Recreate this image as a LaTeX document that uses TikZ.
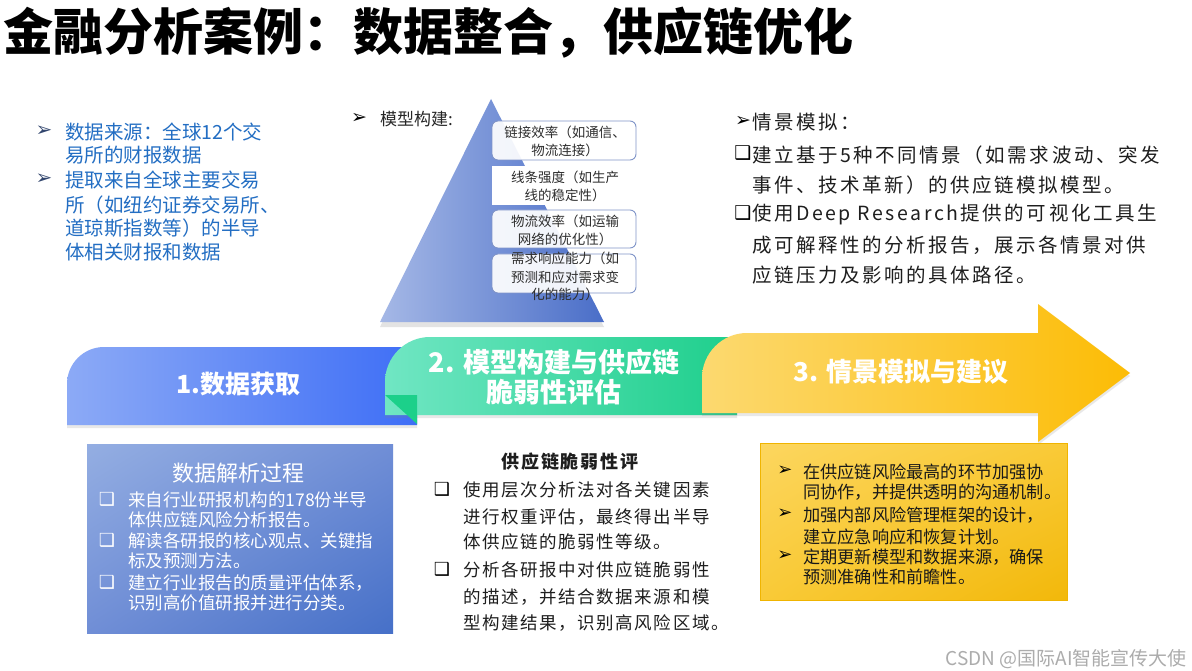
\documentclass[tikz,border=0pt]{standalone}
\usepackage{fontspec}
\setmainfont{Noto Sans CJK SC}
\newfontfamily\dvsans{DejaVu Sans}
\usetikzlibrary{shadows,shadings}
\newcommand{\myfs}[2]{\fontsize{#1}{#2}\selectfont}
\definecolor{txtblue}{RGB}{35,110,195}
\definecolor{bulblue}{RGB}{50,70,110}
\definecolor{darktxt}{RGB}{30,30,30}
\definecolor{bandBlueL}{RGB}{140,170,246}
\definecolor{bandBlueR}{RGB}{62,110,246}
\definecolor{bandGreenL}{RGB}{112,230,195}
\definecolor{bandGreenR}{RGB}{30,207,140}
\definecolor{foldGreen}{RGB}{28,208,138}
\definecolor{bandYelL}{RGB}{252,217,112}
\definecolor{bandYelR}{RGB}{252,188,5}
\definecolor{pyrL}{RGB}{165,184,230}
\definecolor{pyrR}{RGB}{74,110,200}
\definecolor{boxEdge}{RGB}{128,148,200}
\definecolor{bboxTL}{RGB}{148,174,226}
\definecolor{bboxM}{RGB}{112,142,214}
\definecolor{bboxBR}{RGB}{70,112,200}
\definecolor{yboxTL}{RGB}{252,214,95}
\definecolor{yboxM}{RGB}{249,202,55}
\definecolor{yboxBR}{RGB}{242,184,10}
\definecolor{yedge}{RGB}{240,180,0}
\definecolor{wmgray}{RGB}{172,172,172}
\begin{document}
\begin{tikzpicture}[x=1pt,y=-1pt,
  ln/.style={anchor=west, inner sep=0pt},
  ctr/.style={inner sep=0pt},
  bandshadow/.style={drop shadow={opacity=0.18, shadow xshift=0pt, shadow yshift=-3pt}},
  bandtxt/.style={ctr, text=white, font=\myfs{26}{30}\bfseries, align=center},
  lt/.style={ln, text=txtblue, font=\myfs{19.5}{24}},
  ltbul/.style={ctr, text=bulblue, font=\dvsans\myfs{20}{20}},
  rt/.style={ln, text=darktxt, font=\myfs{19.5}{24}\addfontfeature{LetterSpace=13}},
  rtbul/.style={ctr, text=black, font=\dvsans\myfs{19}{19}},
  pbox/.style={draw=boxEdge, fill=white, fill opacity=0.92, rounded corners=6pt, line width=0.9pt},
  ptxt/.style={ctr, text=black!82, font=\myfs{13.5}{16}},
  mt/.style={ln, text=darktxt, font=\myfs{17.5}{20}\addfontfeature{LetterSpace=9}},
  bt/.style={ln, text=white, font=\myfs{17.5}{20}},
  yt/.style={ln, text=black!90, font=\myfs{17.2}{20}},
  sqbul/.style={ctr, font=\dvsans\myfs{18}{18}},
  ybul/.style={ctr, text=black, font=\dvsans\myfs{18}{18}}
]
\useasboundingbox[fill=white] (0,0) rectangle (1192,671);

% title
\node[ln, font=\myfs{50}{50}\bfseries, text=black] (title) at (3,33) {金融分析案例：数据整合，供应链优化};

% left top text
\node[ltbul] (lb1) at (44,131) {➢};
\node[ltbul] (lb2) at (44,179) {➢};
\node[lt] (lt1) at (65,132) {数据来源：全球12个交};
\node[lt] (lt2) at (65,155) {易所的财报数据};
\node[lt] (lt3) at (65,180) {提取来自全球主要交易};
\node[lt] (lt4) at (65,205) {所（如纽约证券交易所、};
\node[lt] (lt5) at (65,228) {道琼斯指数等）的半导};
\node[lt] (lt6) at (65,252) {体相关财报和数据};

% pyramid
\path[drop shadow={opacity=0.22, shadow xshift=0pt, shadow yshift=-5pt}, left color=pyrL, right color=pyrR]
  (491,99) -- (604,322) -- (380,322) -- cycle;
\node[ctr, text=black, font=\dvsans\myfs{19}{19}] (pb) at (359,118) {➢};
\node[ln, text=black!85, font=\myfs{17}{20}] (pt) at (380,119) {模型构建:};
\draw[pbox] (492,121) rectangle (636,160);
\fill[white] (492,166) rectangle (636,205);
\draw[pbox] (492,210) rectangle (636,248);
\draw[pbox] (492,254) rectangle (636,293);
\node[ptxt] (p11) at (565,132) {链接效率（如通信、};
\node[ptxt] (p12) at (565,150) {物流连接）};
\node[ptxt] (p21) at (565,177) {线条强度（如生产};
\node[ptxt] (p22) at (565,195) {线的稳定性）};
\node[ptxt] (p31) at (565,221) {物流效率（如运输};
\node[ptxt] (p32) at (565,239) {网络的优化性）};
\node[ptxt] (p41) at (565,258) {需求响应能力（如};
\node[ptxt] (p42) at (565,277) {预测和应对需求变};
\node[ptxt] (p43) at (565,294) {化的能力）};

% right top text
\node[rtbul] (rb0) at (743,121) {➢};
\node[rt] (rt0) at (752,122) {情景模拟：};
\node[rtbul] (rb1) at (743,153) {❑};
\node[rt] (rt1) at (752,155) {建立基于5种不同情景（如需求波动、突发};
\node[rt] (rt2) at (752,185) {事件、技术革新）的供应链模拟模型。};
\node[rtbul] (rb2) at (743,213) {❑};
\node[rt] (rt3) at (752,215) {使用Deep Research提供的可视化工具生};
\node[rt] (rt4) at (752,245) {成可解释性的分析报告，展示各情景对供};
\node[rt] (rt5) at (752,275) {应链压力及影响的具体路径。};

% bands
\path[bandshadow, left color=bandBlueL, right color=bandBlueR]
  (67,425) -- (67,384) .. controls (67,363.6) and (83.6,347) .. (104,347) -- (417,347) -- (417,425) -- cycle;
\path[bandshadow, left color=bandGreenL, right color=bandGreenR]
  (385,415) -- (385,382) .. controls (385,357.2) and (405.2,337) .. (430,337) -- (737,337) -- (737,415) -- cycle;
\fill[foldGreen] (385,395) -- (417,395) -- (417,424) -- cycle;
\path[bandshadow, left color=bandYelL, right color=bandYelR]
  (702,413) -- (702,378) .. controls (702,353.2) and (722.2,333) .. (747,333) -- (1038,333) -- (1038,304) -- (1130,373) -- (1038,442) -- (1038,413) -- cycle;
\node[bandtxt, font=\myfs{25}{30}\bfseries] (s1) at (238,384) {1.数据获取};
\node[bandtxt, font=\myfs{27}{30}\bfseries] (s2) at (554,377) {2. 模型构建与供应链\\脆弱性评估};
\node[bandtxt] (s3) at (901,372) {3. 情景模拟与建议};

% blue box
\path[shading=bilinear interpolation, upper left=bboxTL, upper right=bboxM, lower left=bboxM, lower right=bboxBR]
  (87,444) rectangle (393,633);
\node[ctr, text=white, font=\myfs{22}{24}] (bt0) at (238,473) {数据解析过程};
\node[sqbul, text=white] (bb1) at (107,499) {❑};
\node[bt] (bt1) at (128,500) {来自行业研报机构的178份半导};
\node[bt] (bt2) at (128,520) {体供应链风险分析报告。};
\node[sqbul, text=white] (bb2) at (107,540) {❑};
\node[bt] (bt3) at (128,541) {解读各研报的核心观点、关键指};
\node[bt] (bt4) at (128,561) {标及预测方法。};
\node[sqbul, text=white] (bb3) at (107,582) {❑};
\node[bt] (bt5) at (128,583) {建立行业报告的质量评估体系，};
\node[bt] (bt6) at (128,603) {识别高价值研报并进行分类。};

% middle text
\node[ctr, text=darktxt, font=\myfs{18}{20}\bfseries\addfontfeature{LetterSpace=10}] (mt0) at (570,462) {供应链脆弱性评};
\node[sqbul, text=black] (mb1) at (442,489) {❑};
\node[mt] (mt1) at (463,490) {使用层次分析法对各关键因素};
\node[mt] (mt2) at (463,517) {进行权重评估，最终得出半导};
\node[mt] (mt3) at (463,542) {体供应链的脆弱性等级。};
\node[sqbul, text=black] (mb2) at (442,569) {❑};
\node[mt] (mt4) at (463,570) {分析各研报中对供应链脆弱性};
\node[mt] (mt5) at (463,597) {的描述，并结合数据来源和模};
\node[mt] (mt6) at (463,623) {型构建结果，识别高风险区域。};

% yellow box
\path[shading=bilinear interpolation, upper left=yboxTL, upper right=yboxM, lower left=yboxM, lower right=yboxBR]
  (760,443) rectangle (1067,600);
\draw[yedge, line width=1pt] (760,443) rectangle (1067,600);
\node[ybul] (yb1) at (785,471) {➢};
\node[yt] (yt1) at (803,472) {在供应链风险最高的环节加强协};
\node[yt] (yt2) at (803,492) {同协作，并提供透明的沟通机制。};
\node[ybul] (yb2) at (785,514) {➢};
\node[yt] (yt3) at (803,515) {加强内部风险管理框架的设计，};
\node[yt] (yt4) at (803,537) {建立应急响应和恢复计划。};
\node[ybul] (yb3) at (785,556) {➢};
\node[yt] (yt5) at (803,557) {定期更新模型和数据来源，确保};
\node[yt] (yt6) at (803,577) {预测准确性和前瞻性。};

% watermark
\node[anchor=east, inner sep=0pt, text=wmgray, font=\myfs{19}{20}] (wm) at (1187,659) {CSDN @国际AI智能宣传大使};
\end{tikzpicture}
\end{document}
